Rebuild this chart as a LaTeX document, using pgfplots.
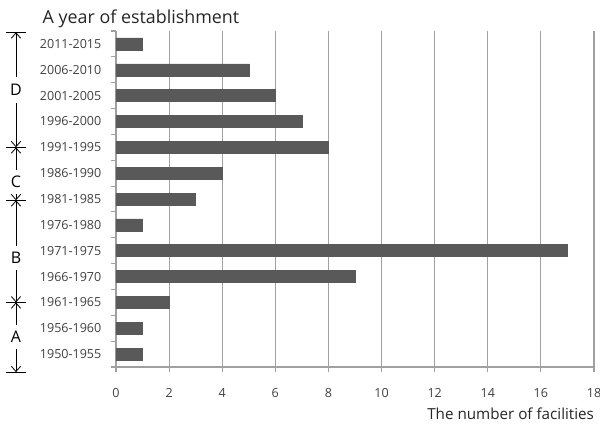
\documentclass[border=0pt]{standalone}
\usepackage{pgfplots}
\pgfplotsset{compat=1.18}
\usepackage{fontspec}
\setmainfont{Open Sans}
\usetikzlibrary{arrows.meta}
\definecolor{barcol}{HTML}{595959}
\definecolor{gridcol}{HTML}{A0A0A0}
\definecolor{labcol}{HTML}{404040}

\begin{document}
\begin{tikzpicture}
% page = 600x426 px, 1px = 0.75pt
\useasboundingbox (-87pt,-44.25pt) rectangle (363pt,275.25pt);
\begin{axis}[
    at={(0,0)}, anchor=south west,
    scale only axis,
    width=358.5pt, height=252pt,
    xbar,
    bar width=9pt,
    xmin=0, xmax=18,
    ymin=-0.5, ymax=12.5,
    xtick={0,2,...,18},
    ytick={0,...,12},
    yticklabels={1950-1955,1956-1960,1961-1965,1966-1970,1971-1975,1976-1980,1981-1985,1986-1990,1991-1995,1996-2000,2001-2005,2006-2010,2011-2015},
    minor ytick={-0.5,0.5,...,12.5},
    axis x line*=bottom,
    axis y line*=left,
    axis line style={gridcol, line width=0.8pt},
    xmajorgrids,
    major grid style={gridcol, line width=0.8pt},
    tick align=outside,
    major tick length=3.5pt,
    minor tick length=3.5pt,
    every tick/.style={gridcol, line width=0.8pt},
    ytick style={draw=none},
    minor y tick style={draw=gridcol},
    /pgf/number format/assume math mode=true,
    tick label style={font=\fontsize{9.4}{11}\selectfont, text=labcol},
    xticklabel style={yshift=-9pt},
    yticklabel style={xshift=-4pt},
    clip=false,
]
\addplot[fill=barcol, draw=barcol] coordinates {
(1,0) (1,1) (2,2) (9,3) (17,4) (1,5) (3,6) (4,7) (8,8) (7,9) (6,10) (5,11) (1,12)};

\begin{scope}[black, line width=0.6pt, -{Straight Barb[length=4pt, width=7pt]}]
 % D
 \draw ([xshift=-75pt]axis cs:0,10.72) -- ([xshift=-75pt]axis cs:0,12.45);
 \draw ([xshift=-75pt]axis cs:0,9.72) -- ([xshift=-75pt]axis cs:0,8.0);
 % C
 \draw ([xshift=-75pt]axis cs:0,7.12) -- ([xshift=-75pt]axis cs:0,8.0);
 \draw ([xshift=-75pt]axis cs:0,6.2) -- ([xshift=-75pt]axis cs:0,5.95);
 % B
 \draw ([xshift=-75pt]axis cs:0,4.2) -- ([xshift=-75pt]axis cs:0,5.95);
 \draw ([xshift=-75pt]axis cs:0,3.25) -- ([xshift=-75pt]axis cs:0,2.0);
 % A
 \draw ([xshift=-75pt]axis cs:0,1.12) -- ([xshift=-75pt]axis cs:0,2.0);
 \draw ([xshift=-75pt]axis cs:0,0.2) -- ([xshift=-75pt]axis cs:0,-0.7);
\end{scope}
\begin{scope}[black, line width=0.6pt]
 \draw ([xshift=-82.5pt]axis cs:0,12.45) -- ([xshift=-67.5pt]axis cs:0,12.45);
 \draw ([xshift=-82.5pt]axis cs:0,8.0) -- ([xshift=-67.5pt]axis cs:0,8.0);
 \draw ([xshift=-82.5pt]axis cs:0,5.95) -- ([xshift=-67.5pt]axis cs:0,5.95);
 \draw ([xshift=-82.5pt]axis cs:0,2.0) -- ([xshift=-67.5pt]axis cs:0,2.0);
 \draw ([xshift=-82.5pt]axis cs:0,-0.7) -- ([xshift=-67.5pt]axis cs:0,-0.7);
 \node[font=\fontsize{12}{14}\selectfont] at ([xshift=-75pt]axis cs:0,10.22) {D};
 \node[font=\fontsize{12}{14}\selectfont] at ([xshift=-75pt]axis cs:0,6.66) {C};
 \node[font=\fontsize{12}{14}\selectfont] at ([xshift=-75pt]axis cs:0,3.72) {B};
 \node[font=\fontsize{12}{14}\selectfont] at ([xshift=-75pt]axis cs:0,0.66) {A};
\end{scope}
\end{axis}
\node[anchor=base west, font=\fontsize{13.4}{15}\selectfont, text=black!85] at (-58.5pt,258pt) {A year of establishment};
\node[anchor=base east, font=\fontsize{11.4}{13}\selectfont, text=black!85] at (362pt,-39pt) {The number of facilities};
\end{tikzpicture}
\end{document}
